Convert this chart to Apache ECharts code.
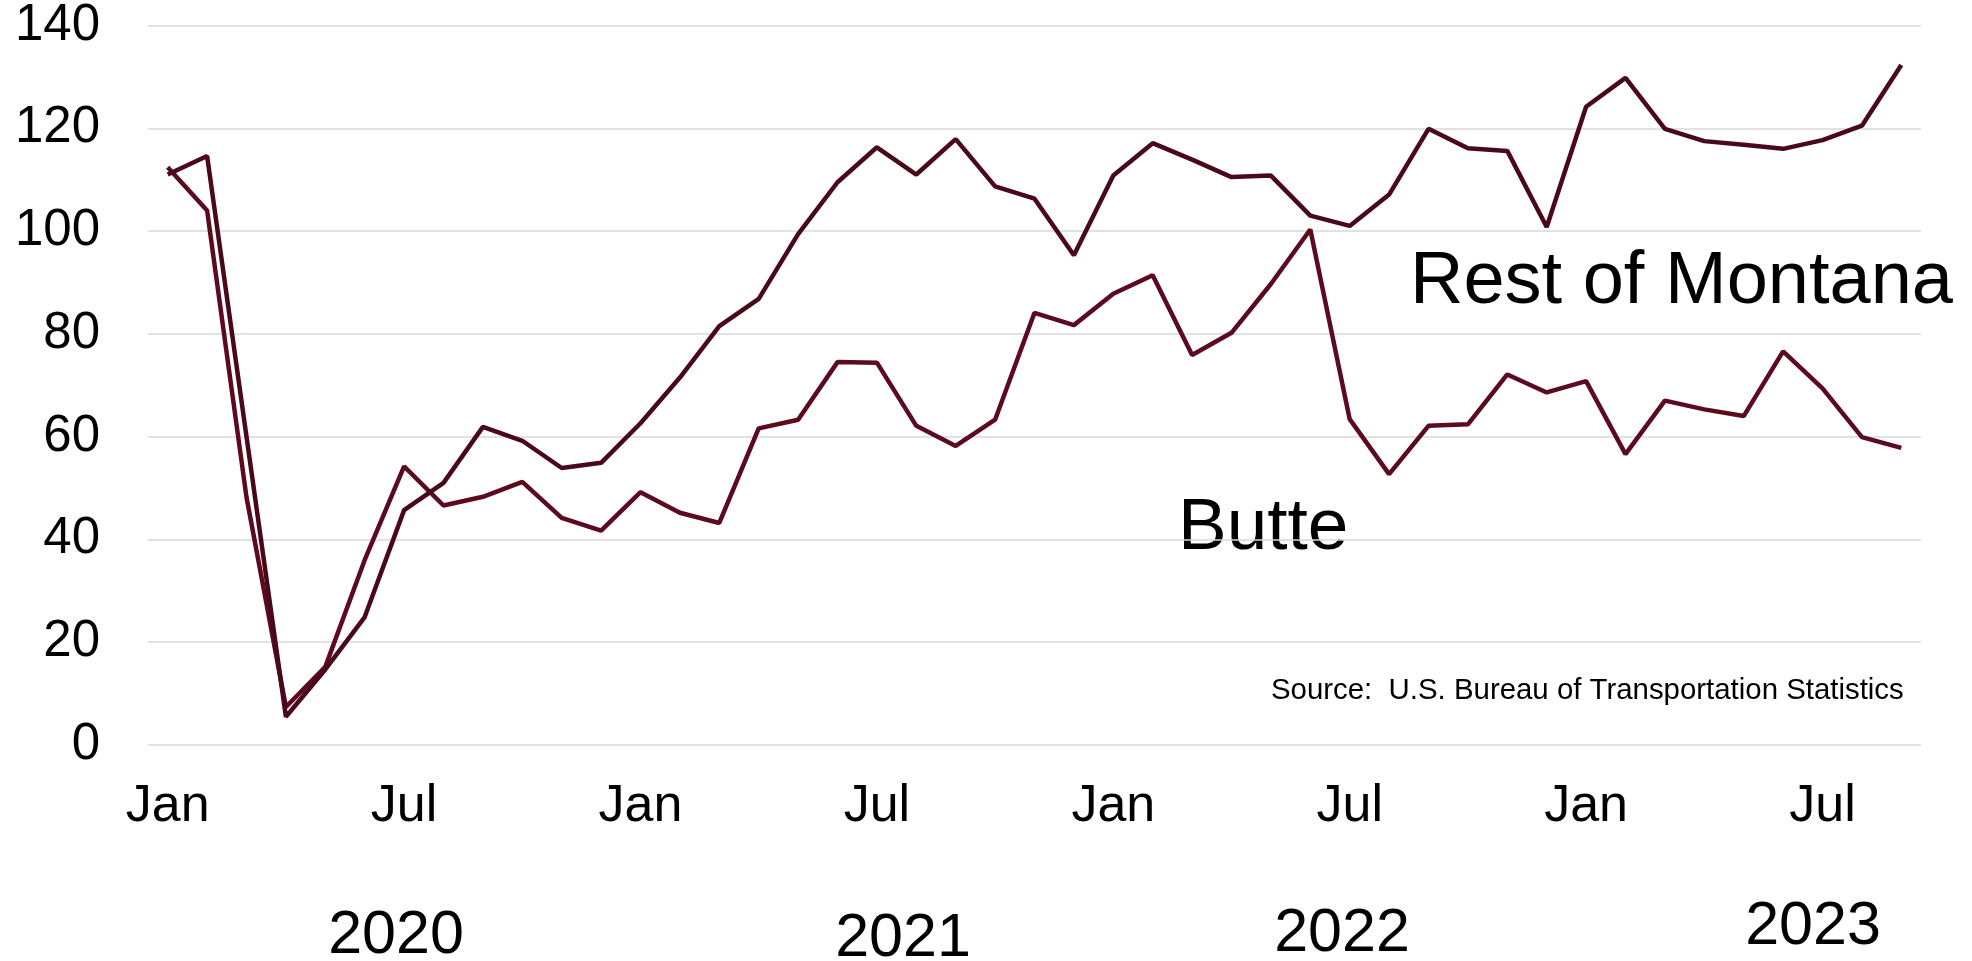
<!DOCTYPE html>
<html>
<head>
<meta charset="utf-8">
<script src="https://cdn.jsdelivr.net/npm/echarts@6/dist/echarts.min.js"></script>
<style>
html,body{margin:0;padding:0;background:#fff;}
#chart{width:1972px;height:961px;}
</style>
</head>
<body>
<div id="chart"></div>
<script>
// Monthly categories Jan 2020 – Sep 2023
const years = [2020, 2021, 2022, 2023];
const monthNames = ['Jan','Feb','Mar','Apr','May','Jun','Jul','Aug','Sep','Oct','Nov','Dec'];
const categories = [];
years.forEach(y => monthNames.forEach((m, i) => { if (!(y === 2023 && i > 8)) categories.push(m + ' ' + y); }));

const shownTickLabels = ['Jan', 'Jul'];
const yTicks = [0, 20, 40, 60, 80, 100, 120, 140];

const restOfMontana = [
  111.0, 114.6, 60.0, 5.5, 14.7, 24.9, 45.7, 51.0, 61.9, 59.2, 53.9, 54.9,
  62.6, 71.5, 81.5, 86.8, 99.4, 109.5, 116.3, 111.0, 117.9, 108.7, 106.3, 95.3,
  110.8, 117.1, 113.9, 110.5, 110.8, 103.0, 101.0, 107.1, 119.9, 116.1, 115.6, 100.8,
  124.2, 129.8, 119.9, 117.5, 116.8, 116.0, 117.7, 120.5, 132.3
];
const butte = [
  112.4, 104.0, 48.2, 7.4, 15.2, 36.0, 54.2, 46.6, 48.3, 51.2, 44.2, 41.7,
  49.2, 45.2, 43.2, 61.6, 63.3, 74.5, 74.4, 62.1, 58.2, 63.3, 84.1, 81.7,
  87.8, 91.4, 75.9, 80.2, 89.7, 100.3, 63.4, 52.7, 62.1, 62.4, 72.1, 68.6,
  70.8, 56.6, 67.0, 65.3, 64.0, 76.6, 69.4, 59.9, 57.8
];

const yearLabels = ['2020', '2021', '2022', '2023'];
const seriesNames = ['Rest of Montana', 'Butte'];
const sourceText = 'Source:  U.S. Bureau of Transportation Statistics';

const FONT = '"Liberation Sans", Arial, sans-serif';
const chart = echarts.init(document.getElementById('chart'), null, {renderer: 'canvas'});

const yearPos = [[396, 936], [903, 939], [1342, 934], [1813, 927]];

const option = {
  animation: false,
  backgroundColor: '#ffffff',
  grid: {left: 148, right: 51, top: 25, bottom: 216, containLabel: false},
  xAxis: {
    type: 'category',
    data: categories,
    boundaryGap: true,
    axisLine: {show: false},
    axisTick: {show: false},
    splitLine: {show: false},
    axisLabel: {
      interval: 5,
      margin: 36,
      fontSize: 52,
      fontFamily: FONT,
      color: '#000',
      formatter: v => { const m = v.split(' ')[0]; return shownTickLabels.indexOf(m) >= 0 ? m : ''; }
    }
  },
  yAxis: {
    type: 'value',
    min: yTicks[0],
    max: yTicks[yTicks.length - 1],
    interval: 20,
    axisLine: {show: false},
    axisTick: {show: false},
    axisLabel: {margin: 48, fontSize: 51, fontFamily: FONT, color: '#000'},
    splitLine: {lineStyle: {color: '#d9d9d9', width: 1.5}}
  },
  series: [
    {
      name: seriesNames[0], type: 'line', data: restOfMontana, symbol: 'none',
      lineStyle: {color: '#4a0918', width: 4.5}, z: 3
    },
    {
      name: seriesNames[1], type: 'line', data: butte, symbol: 'none',
      lineStyle: {color: '#5c0a1e', width: 4.5}, z: 2
    }
  ],
  graphic: [
    {type: 'text', x: 1410, y: 283, style: {text: seriesNames[0], font: '74px ' + FONT, fill: '#000', align: 'left', verticalAlign: 'middle', textAlign: 'left', textVerticalAlign: 'middle'}},
    {type: 'text', x: 1178, y: 529, style: {text: seriesNames[1], font: '73px ' + FONT, fill: '#000', align: 'left', verticalAlign: 'middle', textAlign: 'left', textVerticalAlign: 'middle'}},
    {type: 'text', x: 1271, y: 691, style: {text: sourceText, font: '29.4px ' + FONT, fill: '#000', align: 'left', verticalAlign: 'middle', textAlign: 'left', textVerticalAlign: 'middle'}}
  ].concat(yearLabels.map((t, i) => ({
    type: 'text', x: yearPos[i][0], y: yearPos[i][1],
    style: {text: t, font: '61px ' + FONT, fill: '#000', align: 'center', verticalAlign: 'middle', textAlign: 'center', textVerticalAlign: 'middle'}
  })))
};
chart.setOption(option);
</script>
</body>
</html>
